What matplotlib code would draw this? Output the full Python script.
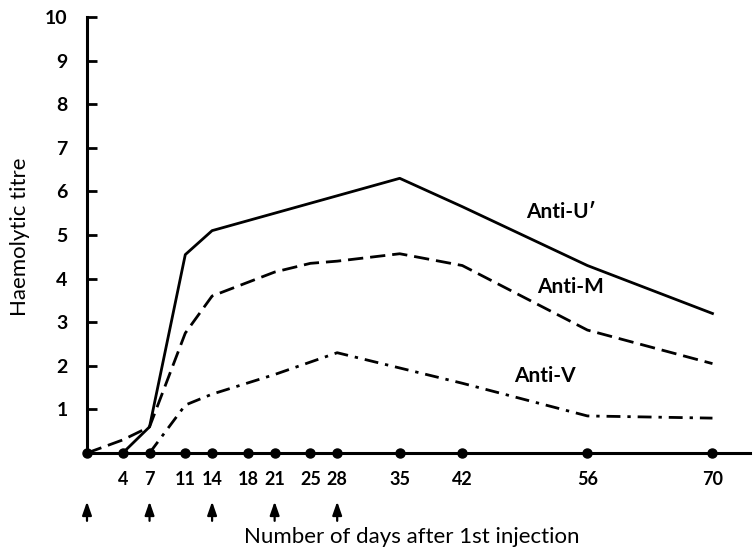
import numpy as np
import matplotlib.pyplot as plt

# ─── data ────────────────────────────────────────────────────────────────────
DAYS_DOTS = [0, 4, 7, 11, 14, 18, 21, 25, 28, 35, 42, 56, 70]
INJECTION_DAYS = [0, 7, 14, 21, 28]

U_DAYS = [4, 7, 11, 14, 21, 28, 35, 42, 56, 70]
U_TITRE = [0.0, 0.6, 4.55, 5.1, 5.5, 5.9, 6.3, 5.65, 4.3, 3.2]

M_DAYS = [0, 4, 7, 11, 14, 21, 25, 28, 35, 42, 56, 70]
M_TITRE = [0.0, 0.3, 0.6, 2.75, 3.6, 4.15, 4.35, 4.4, 4.57, 4.3, 2.82, 2.05]

V_DAYS = [7, 11, 14, 21, 28, 35, 42, 56, 70]
V_TITRE = [0.0, 1.1, 1.35, 1.8, 2.3, 1.95, 1.6, 0.85, 0.8]

LABELS = ["Anti-U\u2032", "Anti-M", "Anti-V"]
LABEL_POS = [(53.0, 5.52), (54.1, 3.8), (51.2, 1.76)]
# ──────────────────────────────────────────────────────────────────────────────

plt.rcParams['font.family'] = ['Lato', 'DejaVu Sans']

fig = plt.figure(figsize=(7.54, 5.5), dpi=100)
ax = fig.add_axes([87 / 754, 1 - 453 / 550, (750 - 87) / 754, (453 - 17) / 550])

ax.plot(U_DAYS, U_TITRE, color='k', lw=2.0, solid_joinstyle='round')
ax.plot(M_DAYS, M_TITRE, color='k', lw=2.0, dashes=(5.5, 2.5))
ax.plot(V_DAYS, V_TITRE, color='k', lw=2.0, dashes=(5, 2.5, 1.2, 2.5))

ax.plot([0, 74.2], [0, 0], color='k', lw=2.2, clip_on=False)
ax.plot(DAYS_DOTS, [0] * len(DAYS_DOTS), 'o', color='k', ms=6.5, clip_on=False)

for lab, (x, y) in zip(LABELS, LABEL_POS):
    ax.text(x, y, lab, fontsize=15, fontweight='bold', ha='center', va='center')

for d in INJECTION_DAYS:
    ax.annotate('', xy=(d, -1.05), xytext=(d, -1.62), annotation_clip=False,
                arrowprops=dict(arrowstyle='-|>,head_length=0.8,head_width=0.28',
                                color='k', lw=1.6))

ax.set_xlim(0, 74.2)
ax.set_ylim(0, 10)
for s in ['top', 'right', 'bottom']:
    ax.spines[s].set_visible(False)
ax.spines['left'].set_linewidth(2.2)

ax.set_yticks(range(1, 11))
ax.tick_params(axis='y', direction='in', length=7, width=2, pad=14,
               labelsize=14)
for t in ax.get_yticklabels():
    t.set_fontweight('bold')

ax.set_xticks(DAYS_DOTS[1:])
ax.tick_params(axis='x', length=0, pad=13, labelsize=13)
for t in ax.get_xticklabels():
    t.set_fontweight('bold')

ax.set_ylabel('Haemolytic titre', fontsize=16)
ax.yaxis.label.set_va('center')
ax.yaxis.set_label_coords((20 - 87) / 663, (453 - 237) / 436)
ax.set_xlabel('Number of days after 1st injection', fontsize=16)
ax.xaxis.label.set_va('center')
ax.xaxis.set_label_coords((412 - 87) / 663, -(537 - 453) / 436)

fig.savefig('out.png', dpi=100)
